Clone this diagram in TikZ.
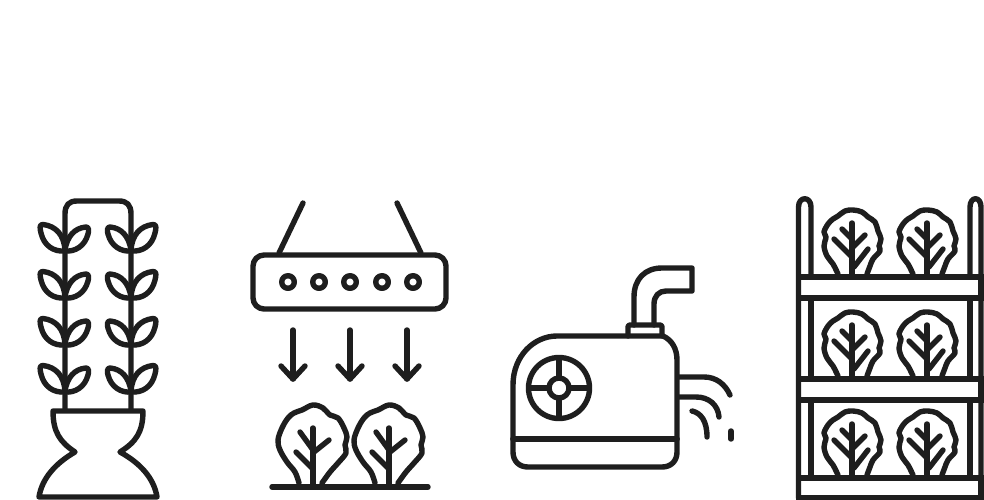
\documentclass[tikz,border=0pt]{standalone}
\definecolor{ink}{HTML}{1E1E1E}
\tikzset{
  icon/.style={draw=ink,line width=5.4pt,line cap=round,line join=round},
  thin icon/.style={draw=ink,line width=5.4pt,line cap=round,line join=round},
  leafpair/.pic={
    \draw[thin icon] (0,-1) .. controls (-1,-16) and (-9,-25) .. (-22,-26.5) .. controls (-26,-27) and (-25,-22) .. (-24,-18) .. controls (-21,-5) and (-11,1) .. (0,0);
    \draw[thin icon] (0,-1) .. controls (2,-14) and (9,-23) .. (21,-24) .. controls (24,-24) and (24,-20) .. (23,-17) .. controls (20,-5) and (10,1) .. (0,0);
  },
  leafpairm/.pic={
    \draw[thin icon] (0,-1) .. controls (1,-16) and (9,-25) .. (22,-26.5) .. controls (26,-27) and (25,-22) .. (24,-18) .. controls (21,-5) and (11,1) .. (0,0);
    \draw[thin icon] (0,-1) .. controls (-2,-14) and (-9,-23) .. (-21,-24) .. controls (-24,-24) and (-24,-20) .. (-23,-17) .. controls (-20,-5) and (-10,1) .. (0,0);
  },
  bush/.pic={
    \draw[thin icon] plot[smooth,tension=0.6] coordinates {(-14,-4) (-18,-15) (-26,-25) (-33,-37) (-35,-47) (-31,-59) (-25,-69) (-19,-74) (-11,-77) (0,-82) (10,-79) (17,-72) (25,-69) (31,-59) (34,-50) (32,-42) (33,-34) (25,-24) (17,-15) (9,-4)};
    \draw[thin icon] (0,-59) -- (0,-1);
    \draw[thin icon] (-13,-55) -- (0,-37);
    \draw[thin icon] (16,-47) -- (1,-35);
    \draw[thin icon] (-17,-35) -- (-1,-19);
  },
  lettuce/.pic={
    \draw[thin icon] plot[smooth,tension=0.6] coordinates {(-14,-2) (-19,-12) (-25,-20) (-28,-30) (-26,-39) (-28,-44) (-24,-52) (-19,-57) (-14,-60) (-7,-65) (1,-66) (10,-64) (16,-59) (23,-54) (26,-45) (29,-37) (27,-30) (28,-25) (21,-17) (18,-10) (15,-2)};
    \draw[thin icon] (0,-53) -- (0,-1);
    \draw[thin icon] (-10,-47) -- (0,-37);
    \draw[thin icon] (-18,-37) -- (0,-19);
    \draw[thin icon] (13,-41) -- (1,-29);
    \draw[thin icon] (16,-27) -- (2,-9);
  }
}
\begin{document}
\begin{tikzpicture}[x=1pt,y=-1pt]
\useasboundingbox[fill=white] (0,0) rectangle (984,500);

% --- tower ---
\draw[icon] (65,410) -- (65,214) .. controls (65,205) and (69,201) .. (77,201) -- (119,201)
  .. controls (127,201) and (131,205) .. (131,214) -- (131,410);
\foreach \yy in {251,298,345,392}{
  \pic at (65,\yy) {leafpair};
  \pic at (131,\yy) {leafpairm};
}
\draw[icon] (53,411) -- (143,411)
  .. controls (143,432) and (136,442) .. (120,452)
  .. controls (140,463) and (154,478) .. (157,497)
  -- (39,497)
  .. controls (42,478) and (56,463) .. (75,452)
  .. controls (60,442) and (53,432) .. (53,411) -- cycle;

% --- lamp ---
\draw[icon] (303,203) -- (279,253);
\draw[icon] (397,203) -- (421,253);
\draw[icon,rounded corners=11pt] (253,255) rectangle (446,309);
\foreach \xx in {288,319,350,382,413}{
  \draw[icon] (\xx,282) circle (6.3pt);
}
\foreach \xx in {293,350,407}{
  \draw[icon] (\xx,330) -- (\xx,379);
  \draw[icon] (\xx-12,366) -- (\xx,379) -- (\xx+12,366);
}
\pic at (313,487) {bush};
\pic at (389,487) {bush};
\draw[icon] (272,487) -- (428,487);

% --- pump ---
\draw[icon] (513,439) -- (513,385) .. controls (513,356) and (534,336) .. (557,336)
  -- (663,336) .. controls (672,340) and (677,349) .. (677,360) -- (677,439);
\draw[icon] (513,439) -- (677,439);
\draw[icon] (513,439) -- (513,452) .. controls (513,461) and (519,467) .. (528,467)
  -- (662,467) .. controls (671,467) and (677,461) .. (677,452) -- (677,439);
\draw[icon,rounded corners=1.5pt] (628,336) -- (628,325) -- (662,325) -- (662,336);
\draw[icon] (634,325) -- (634,297) .. controls (634,279) and (645,268) .. (662,268)
  -- (692,268) -- (692,291) -- (666,291) .. controls (659,291) and (654,296) .. (654,304) -- (654,325);
\draw[icon] (559,388) circle (30.5pt);
\draw[icon] (559,388) circle (10pt);
\draw[icon] (559,358) -- (559,378);
\draw[icon] (559,398) -- (559,418);
\draw[icon] (529,388) -- (549,388);
\draw[icon] (569,388) -- (589,388);
\draw[icon] (679,377) -- (704,377) .. controls (716,377) and (725,384) .. (730,395);
\draw[icon] (679,397) -- (696,397) .. controls (709,397) and (718,405) .. (719,417);
\draw[icon] (692,411) .. controls (701,413) and (707,421) .. (707,437);
\draw[icon] (731,431) -- (731,439);

% --- shelf ---
\draw[icon] (798.5,498) -- (798.5,207) .. controls (798.5,196) and (811,196) .. (811,207) -- (811,277);
\draw[icon] (811,298) -- (811,379);
\draw[icon] (811,400) -- (811,478);
\draw[icon] (981,498) -- (981,207) .. controls (981,196) and (970,196) .. (970,207) -- (970,277);
\draw[icon] (970,298) -- (970,379);
\draw[icon] (970,400) -- (970,478);
\foreach \yt/\yb in {277/298,379/400,478/498}{
  \draw[icon,line join=miter] (798.5,\yt) rectangle (981,\yb);
}
\foreach \yy in {276,378,477}{
  \pic at (852,\yy) {lettuce};
  \pic at (927,\yy) {lettuce};
}
\end{tikzpicture}
\end{document}
